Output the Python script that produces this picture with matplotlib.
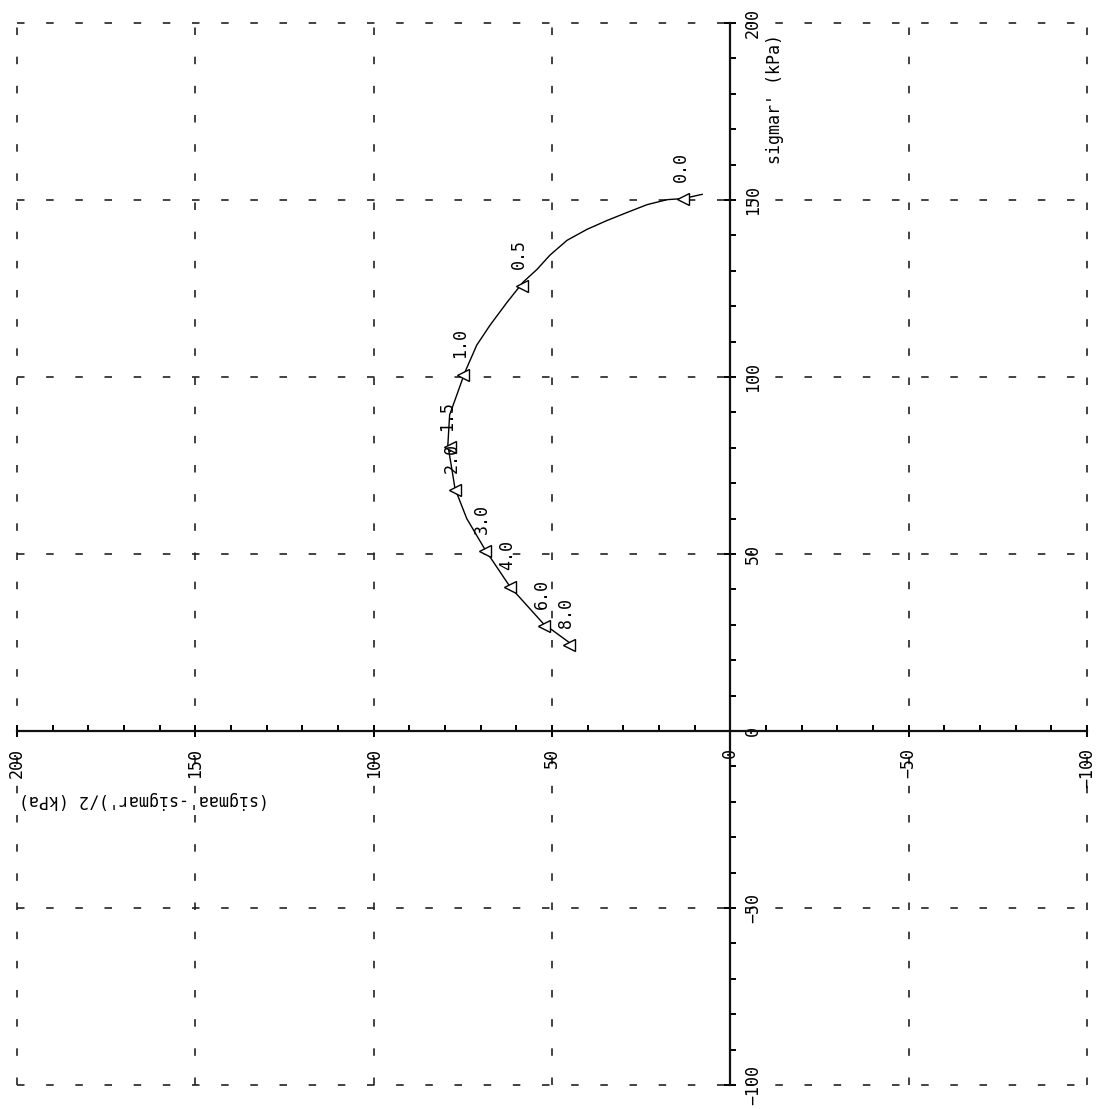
import matplotlib
matplotlib.use("Agg")
import matplotlib.pyplot as plt
from matplotlib.ticker import MultipleLocator

plt.rcParams['font.family'] = ['DejaVu Sans Mono', 'DejaVu Sans']
plt.rcParams['font.size'] = 12

# stress path, (sigmaa'-sigmar')/2 vs sigmar' (kPa)
path_q = [7.9, 13.2, 17.7, 23.3, 28.9, 34.6, 40.2, 45.8, 50.6, 54.2, 58.1,
          62.6, 67.4, 71.1, 74.4, 76.7, 78.7, 79.2, 78.1, 77.2, 73.9, 68.8,
          61.8, 52.5, 44.9]
path_s = [151.6, 150.4, 150.1, 148.7, 146.5, 144.2, 141.7, 138.6, 134.4,
          130.4, 126.8, 121.1, 114.6, 109.0, 101.4, 94.9, 89.3, 80.8, 74.1,
          68.5, 60.0, 51.3, 40.8, 30.4, 24.8]

# labelled points along the path
mark_q = [13.2, 58.4, 75.0, 78.7, 77.2, 68.8, 61.8, 52.2, 45.2]
mark_s = [150.3, 125.6, 100.6, 80.1, 68.0, 50.8, 40.7, 29.8, 24.4]
mark_labels = ["0.0", "0.5", "1.0", "1.5", "2.0", "3.0", "4.0", "6.0", "8.0"]

grid_vals = [-100, -50, 50, 100, 150, 200]

fig = plt.figure(figsize=(11.06, 11.09), dpi=100)
ax = fig.add_axes([17 / 1106, 24 / 1109, 1070 / 1106, 1062 / 1109])
ax.set_xlim(200, -100)
ax.set_ylim(-100, 200)

# dashed grid over the whole field
for v in grid_vals:
    ax.axvline(v, color='#222222', lw=1.2, ls=(0, (4.5, 13)), zorder=1,
               clip_on=False)
    ax.axhline(v, color='#222222', lw=1.2, ls=(0, (4.5, 13)), zorder=1,
               clip_on=False)

ax.spines['top'].set_visible(False)
ax.spines['left'].set_visible(False)
ax.spines['right'].set_position(('data', 0))
ax.spines['bottom'].set_position(('data', 0))
for s in ['right', 'bottom']:
    ax.spines[s].set_linewidth(1.6)
    ax.spines[s].set_color('#111111')

ax.yaxis.tick_right()
ax.xaxis.tick_bottom()
for axis in [ax.xaxis, ax.yaxis]:
    axis.set_major_locator(MultipleLocator(50))
    axis.set_minor_locator(MultipleLocator(10))

ax.tick_params(axis='x', which='major', direction='inout', length=8, width=1.4,
               pad=8, labelrotation=90)
ax.tick_params(axis='x', which='minor', direction='in', length=4, width=1.4)
ax.tick_params(axis='y', which='major', direction='inout', length=8, width=1.4,
               pad=6, labelrotation=90)
ax.tick_params(axis='y', which='minor', direction='out', length=4, width=1.4)
for lab in ax.get_yticklabels():
    lab.set_verticalalignment('center')

ax.plot(path_q, path_s, color='black', lw=1.0, zorder=3)
ax.plot(mark_q, mark_s, ls='none', marker='<', ms=8, mfc='white',
        mec='black', mew=1.0, zorder=4)
for q, s, t in zip(mark_q, mark_s, mark_labels):
    ax.annotate(t, (q, s), xytext=(-2, 23), textcoords='offset points',
                rotation=90, ha='center', va='center', fontsize=12, zorder=5)

ax.text(-12.6, 178.5, "sigmar' (kPa)", rotation=90, ha='center', va='center',
        fontsize=12)
ax.text(199.5, -19.5, "(sigmaa'-sigmar')/2 (kPa)", rotation=180, ha='left',
        va='center', fontsize=12)

fig.savefig('out.png', dpi=100, facecolor='white')
